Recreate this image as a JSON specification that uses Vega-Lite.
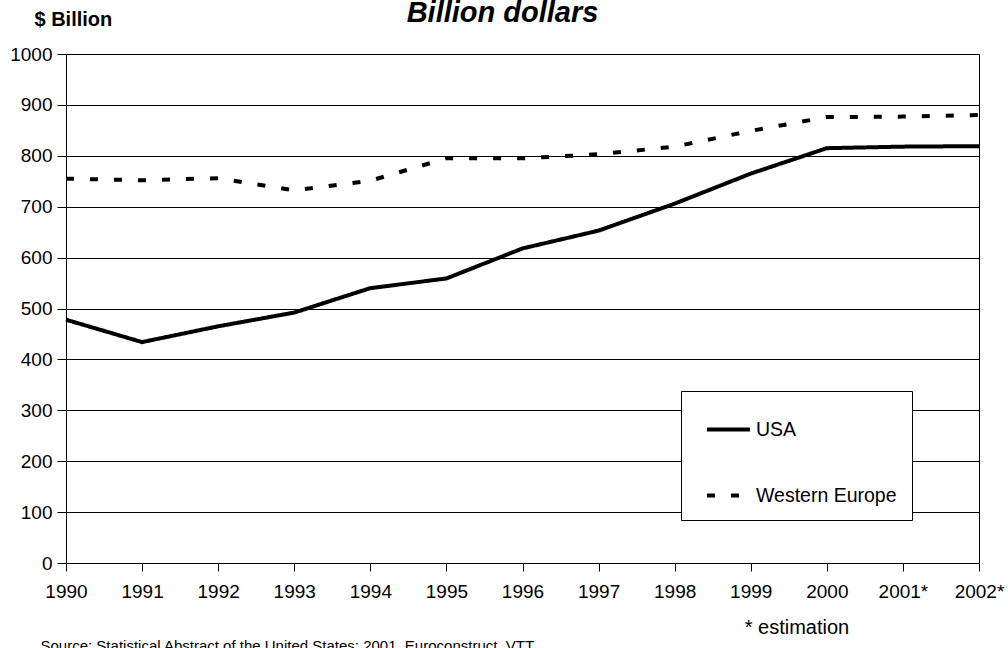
{
  "$schema": "https://vega.github.io/schema/vega-lite/v6.json",
  "autosize": "none",
  "width": 913,
  "height": 509,
  "padding": {"left": 66, "top": 54, "right": 29, "bottom": 85},
  "background": "white",
  "config": {
    "font": "Liberation Sans",
    "view": {"stroke": "black", "strokeWidth": 1},
    "axis": {"labelColor": "black", "titleColor": "black", "domainColor": "black", "tickColor": "black", "gridColor": "black", "labelFont": "Liberation Sans", "titleFont": "Liberation Sans"}
  },
  "title": {
    "text": "Billion dollars",
    "fontSize": 29,
    "fontWeight": "bold",
    "fontStyle": "italic",
    "color": "black",
    "anchor": "middle",
    "baseline": "alphabetic",
    "dx": -20,
    "offset": -42
  },
  "datasets": {
    "series": [
      {"year": "1990", "region": "USA", "value": 478},
      {"year": "1991", "region": "USA", "value": 434},
      {"year": "1992", "region": "USA", "value": 465},
      {"year": "1993", "region": "USA", "value": 492},
      {"year": "1994", "region": "USA", "value": 540},
      {"year": "1995", "region": "USA", "value": 559},
      {"year": "1996", "region": "USA", "value": 618},
      {"year": "1997", "region": "USA", "value": 653},
      {"year": "1998", "region": "USA", "value": 706},
      {"year": "1999", "region": "USA", "value": 765},
      {"year": "2000", "region": "USA", "value": 815},
      {"year": "2001*", "region": "USA", "value": 818},
      {"year": "2002*", "region": "USA", "value": 819},
      {"year": "1990", "region": "Western Europe", "value": 755},
      {"year": "1991", "region": "Western Europe", "value": 752},
      {"year": "1992", "region": "Western Europe", "value": 756},
      {"year": "1993", "region": "Western Europe", "value": 732},
      {"year": "1994", "region": "Western Europe", "value": 751},
      {"year": "1995", "region": "Western Europe", "value": 795},
      {"year": "1996", "region": "Western Europe", "value": 795},
      {"year": "1997", "region": "Western Europe", "value": 803},
      {"year": "1998", "region": "Western Europe", "value": 818},
      {"year": "1999", "region": "Western Europe", "value": 849},
      {"year": "2000", "region": "Western Europe", "value": 876},
      {"year": "2001*", "region": "Western Europe", "value": 877},
      {"year": "2002*", "region": "Western Europe", "value": 880}
    ],
    "notes": [
      {"year": "1999", "value": -140, "note": "* estimation"}
    ]
  },
  "layer": [
    {
      "data": {"name": "series"},
      "mark": {"type": "line", "color": "black", "strokeWidth": 4, "strokeCap": "butt"},
      "encoding": {
        "x": {
          "field": "year",
          "type": "ordinal",
          "sort": null,
          "scale": {"type": "point", "padding": 0},
          "axis": {
            "title": "Source: Statistical Abstract of the United States: 2001, Euroconstruct, VTT",
            "titleFontSize": 15,
            "titleFontWeight": "normal",
            "titleAnchor": "start",
            "titleAlign": "left",
            "titleBaseline": "alphabetic",
            "titleX": -26,
            "titleY": 87,
            "labelAngle": 0,
            "labelFontSize": 19,
            "labelPadding": 11,
            "tickSize": 8,
            "domainWidth": 1,
            "grid": false
          }
        },
        "y": {
          "field": "value",
          "type": "quantitative",
          "scale": {"domain": [0, 1000], "nice": false, "zero": true},
          "axis": {
            "values": [0, 100, 200, 300, 400, 500, 600, 700, 800, 900, 1000],
            "format": "d",
            "title": "$ Billion",
            "titleFontSize": 20,
            "titleFontWeight": "bold",
            "titleAngle": 0,
            "titleAlign": "left",
            "titleBaseline": "middle",
            "titleX": -32,
            "titleY": -35,
            "labelFontSize": 19,
            "labelPadding": 5,
            "tickSize": 9,
            "grid": true,
            "gridWidth": 1
          }
        },
        "strokeDash": {
          "field": "region",
          "type": "nominal",
          "scale": {"domain": ["USA", "Western Europe"], "range": [[1, 0], [8, 16]]},
          "legend": {
            "title": null,
            "orient": "none",
            "legendX": 615,
            "legendY": 337,
            "direction": "vertical",
            "fillColor": "white",
            "strokeColor": "black",
            "padding": 15,
            "symbolOffset": 9,
            "symbolType": "stroke",
            "symbolSize": 1849,
            "symbolStrokeWidth": 4,
            "symbolStrokeColor": "black",
            "labelFontSize": 19.5,
            "labelColor": "black",
            "labelOffset": 4,
            "rowPadding": 33
          }
        }
      }
    },
    {
      "data": {"name": "notes"},
      "mark": {"type": "text", "fontSize": 20, "color": "black", "align": "left", "baseline": "alphabetic", "dx": -6},
      "encoding": {
        "x": {"field": "year", "type": "ordinal", "sort": null},
        "y": {"field": "value", "type": "quantitative"},
        "text": {"field": "note"}
      }
    }
  ]
}
